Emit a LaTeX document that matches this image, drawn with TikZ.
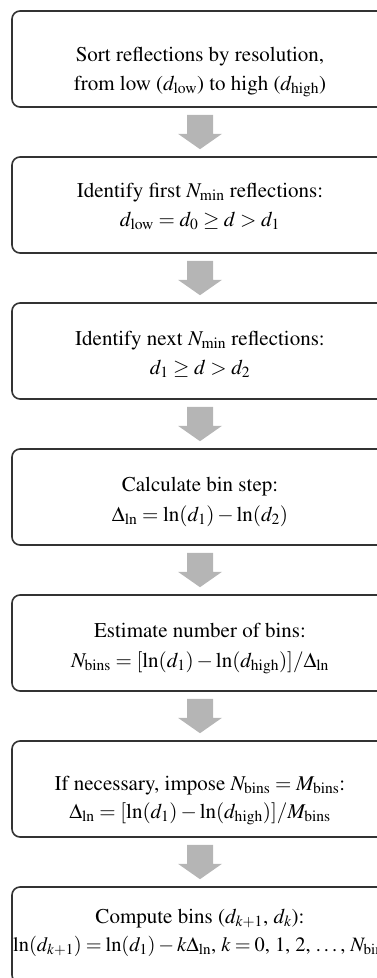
\documentclass[tikz,border=0pt]{standalone}
\usepackage[T1]{fontenc}
\usepackage{mathptmx}
\usetikzlibrary{calc}
\definecolor{boxline}{HTML}{333333}
\definecolor{arrowgray}{HTML}{B5B5B5}
\begin{document}
\begin{tikzpicture}[x=1pt,y=-1pt,
  box/.style={draw=boxline, line width=1.6pt, rounded corners=8pt, minimum width=376pt, minimum height=96pt, inner sep=0pt, fill=white},
  txt/.style={anchor=base, inner sep=0pt, font=\fontsize{21}{29}\selectfont},
  tight/.style={txt, font=\fontsize{20.4}{29}\selectfont, execute at begin node={\medmuskip=2.5mu plus 1mu\thickmuskip=3.5mu plus 2mu}},
  blockarrow/.style={fill=arrowgray, draw=none}]
\useasboundingbox (0,0) rectangle (377,978);
\clip (0,0) rectangle (377,978);
\foreach \i/\t in {1/11,2/157,3/303,4/449,5/595,6/741,7/887}
  \node[box] (b\i) at (200,\t+48) {};
\foreach \i/\j in {1/2,2/3,3/4,4/5,5/6,6/7}
  \fill[blockarrow] ($(b\i.south)+(-13,7)$) -- ($(b\i.south)+(13,7)$) -- ($(b\i.south)+(13,26)$) -- ($(b\i.south)+(22,26)$) -- ($(b\j.north)+(0,-7)$) -- ($(b\i.south)+(-22,26)$) -- ($(b\i.south)+(-13,26)$) -- cycle;
\node[txt] (t1a) at (200,61) {Sort reflections by resolution,};
\node[txt] (t1b) at (200,90) {from low ($d_{\mathrm{low}}$) to high ($d_{\mathrm{high}}$)};
\node[txt] (t2a) at (200,197) {Identify first $N_{\min}$ reflections:};
\node[txt] (t2b) at (200,226) {$d_{\mathrm{low}} = d_0 \geq d > d_1$};
\node[txt] (t3a) at (200,345) {Identify next $N_{\min}$ reflections:};
\node[txt] (t3b) at (200,374) {$d_1 \geq d > d_2$};
\node[txt] (t4a) at (200,491) {Calculate bin step:};
\node[txt] (t4b) at (200,521) {$\Delta_{\mathrm{ln}} = \ln(d_1) - \ln(d_2)$};
\node[txt] (t5a) at (200,637) {Estimate number of bins:};
\node[txt] (t5b) at (200,667) {$N_{\mathrm{bins}} = [\ln(d_1) - \ln(d_{\mathrm{high}})]/\Delta_{\mathrm{ln}}$};
\node[txt] (t6a) at (200,790) {If necessary, impose $N_{\mathrm{bins}} = M_{\mathrm{bins}}$:};
\node[txt] (t6b) at (200,818) {$\Delta_{\mathrm{ln}} = [\ln(d_1) - \ln(d_{\mathrm{high}})]/M_{\mathrm{bins}}$};
\node[txt] (t7a) at (200,923) {Compute bins ($d_{k+1}$, $d_k$):};
\node[tight, anchor=base west] (t7b) at (13,951) {$\ln(d_{k+1}) = \ln(d_1) - k\Delta_{\mathrm{ln}}$, $k = 0$, 1, 2, \ldots, $N_{\mathrm{bins}}$};
\end{tikzpicture}
\end{document}
